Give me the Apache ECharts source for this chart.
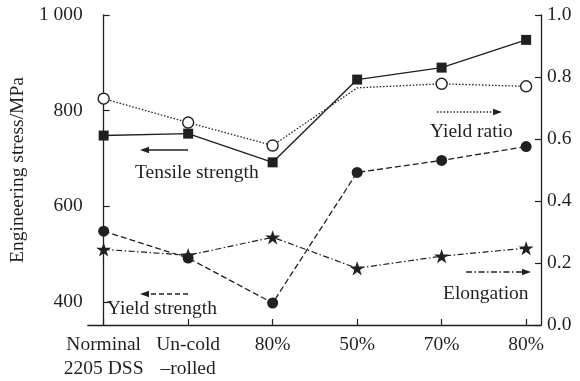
<!DOCTYPE html>
<html>
<head>
<meta charset="utf-8">
<script src="https://cdn.jsdelivr.net/npm/echarts@6/dist/echarts.min.js"></script>
<style>
  html, body { margin: 0; padding: 0; background: #fff; }
  #chart { width: 580px; height: 381px; }
</style>
</head>
<body>
<div id="chart"></div>
<script>
// Processing states along the x axis
var categories = ['Norminal\n2205 DSS', 'Un-cold\n\u2013rolled', '80%', '50%', '70%', '80%'];

// Left axis (MPa)
var tensileStrength = [748, 752, 692, 865, 890, 948];
var yieldStrength   = [548, 492, 398, 671, 696, 725];

// Right axis (ratio / fraction)
var yieldRatio  = [0.730, 0.653, 0.579, 0.765, 0.778, 0.770];
var elongation  = [0.244, 0.225, 0.283, 0.183, 0.222, 0.248];

// Tick labels
var leftTicks  = [400, 600, 800, 1000];
var rightTicks = [0, 0.2, 0.4, 0.6, 0.8, 1.0];

var INK = '#231f20';
var FONT = '"Liberation Serif", "Times New Roman", serif';
var FS = 19.5;
var STAR = 'path://M100,0 L122.5,69.1 L195.1,69.1 L136.3,111.8 L158.8,180.9 L100,138.2 L41.2,180.9 L63.7,111.8 L4.9,69.1 L77.5,69.1 Z';

function pairs(arr) {
  return arr.map(function (v, i) { return [i, v]; });
}

// A straight arrow for the legend-like annotations
function arrow(x1, x2, y, dash) {
  var dir = x2 > x1 ? 1 : -1;
  return [
    {
      type: 'line',
      shape: { x1: x1, y1: y, x2: x2 - dir * 6, y2: y },
      style: { stroke: INK, lineWidth: 1.3, lineDash: dash }
    },
    {
      type: 'polygon',
      shape: { points: [[x2, y], [x2 - dir * 9, y - 3.2], [x2 - dir * 9, y + 3.2]] },
      style: { fill: INK }
    }
  ];
}

function label(text, x, y) {
  return {
    type: 'text',
    x: x, y: y,
    style: {
      text: text, fill: INK, font: FS + 'px ' + FONT,
      textVerticalAlign: 'middle'
    }
  };
}

var chart = echarts.init(document.getElementById('chart'), null, { renderer: 'canvas' });

var option = {
  animation: false,
  backgroundColor: '#fff',
  grid: { left: 85, right: 39, top: 15, bottom: 55 },
  xAxis: {
    type: 'value',
    min: -0.188,
    max: 5.176,
    splitLine: { show: false },
    axisLine: { show: true, lineStyle: { color: INK, width: 1.3 } },
    axisTick: {
      show: true, inside: true, length: 6,
      customValues: [0, 1, 2, 3, 4, 5],
      lineStyle: { color: INK, width: 1.2 }
    },
    axisLabel: {
      customValues: [0, 1, 2, 3, 4, 5],
      margin: 8,
      color: INK,
      fontFamily: FONT,
      fontSize: FS,
      lineHeight: 24,
      formatter: function (v) { return categories[Math.round(v)]; }
    }
  },
  yAxis: [
    {
      type: 'value',
      min: 352,
      max: 1000,
      name: 'Engineering stress/MPa',
      nameLocation: 'middle',
      nameGap: 52,
      nameTextStyle: { color: INK, fontFamily: FONT, fontSize: FS },
      splitLine: { show: false },
      axisLine: { show: true, lineStyle: { color: INK, width: 1.3 } },
      axisTick: {
        show: true, inside: true, length: 6,
        customValues: leftTicks,
        lineStyle: { color: INK, width: 1.2 }
      },
      axisLabel: {
        customValues: leftTicks,
        margin: 5,
        color: INK,
        fontFamily: FONT,
        fontSize: FS,
        formatter: function (v) { return v === 1000 ? '1 000' : String(v); }
      }
    },
    {
      type: 'value',
      min: 0,
      max: 1,
      position: 'right',
      splitLine: { show: false },
      axisLine: { show: true, lineStyle: { color: INK, width: 1.3 } },
      axisTick: {
        show: true, inside: true, length: 6,
        customValues: rightTicks,
        lineStyle: { color: INK, width: 1.2 }
      },
      axisLabel: {
        customValues: rightTicks,
        margin: 6,
        color: INK,
        fontFamily: FONT,
        fontSize: FS,
        formatter: function (v) { return v.toFixed(1); }
      }
    }
  ],
  series: [
    {
      name: 'Tensile strength',
      type: 'line',
      yAxisIndex: 0,
      data: pairs(tensileStrength),
      symbol: 'rect',
      symbolSize: 10,
      lineStyle: { color: INK, width: 1.4, type: 'solid' },
      itemStyle: { color: INK, borderColor: INK, borderWidth: 0 },
      z: 3
    },
    {
      name: 'Yield ratio',
      type: 'line',
      yAxisIndex: 1,
      data: pairs(yieldRatio).map(function (p, i) {
        // no marker drawn at the 50% point
        return i === 3 ? { value: p, symbol: 'none' } : p;
      }),
      symbol: 'circle',
      symbolSize: 11,
      lineStyle: { color: INK, width: 1.3, type: [1.5, 1.8] },
      itemStyle: { color: '#fff', borderColor: INK, borderWidth: 1.4 },
      z: 4
    },
    {
      name: 'Yield strength',
      type: 'line',
      yAxisIndex: 0,
      data: pairs(yieldStrength),
      symbol: 'circle',
      symbolSize: 11,
      lineStyle: { color: INK, width: 1.3, type: [6, 3] },
      itemStyle: { color: INK, borderColor: INK, borderWidth: 0 },
      z: 3
    },
    {
      name: 'Elongation',
      type: 'line',
      yAxisIndex: 1,
      data: pairs(elongation),
      symbol: STAR,
      symbolKeepAspect: true,
      symbolSize: 15,
      lineStyle: { color: INK, width: 1.2, type: [6, 2.5, 1.5, 2.5] },
      itemStyle: { color: INK, borderColor: INK, borderWidth: 0 },
      z: 3
    }
  ],
  graphic: [].concat(
    arrow(188, 140, 150, null),
    [label('Tensile strength', 135, 173)],
    arrow(437, 502, 112, [1.5, 1.8]),
    [label('Yield ratio', 430, 132)],
    arrow(188, 140, 294, [5, 3]),
    [label('Yield strength', 107, 309)],
    arrow(466, 531, 272, [6, 2.5, 1.5, 2.5]),
    [label('Elongation', 443, 294)]
  )
};

chart.setOption(option);
</script>
</body>
</html>
